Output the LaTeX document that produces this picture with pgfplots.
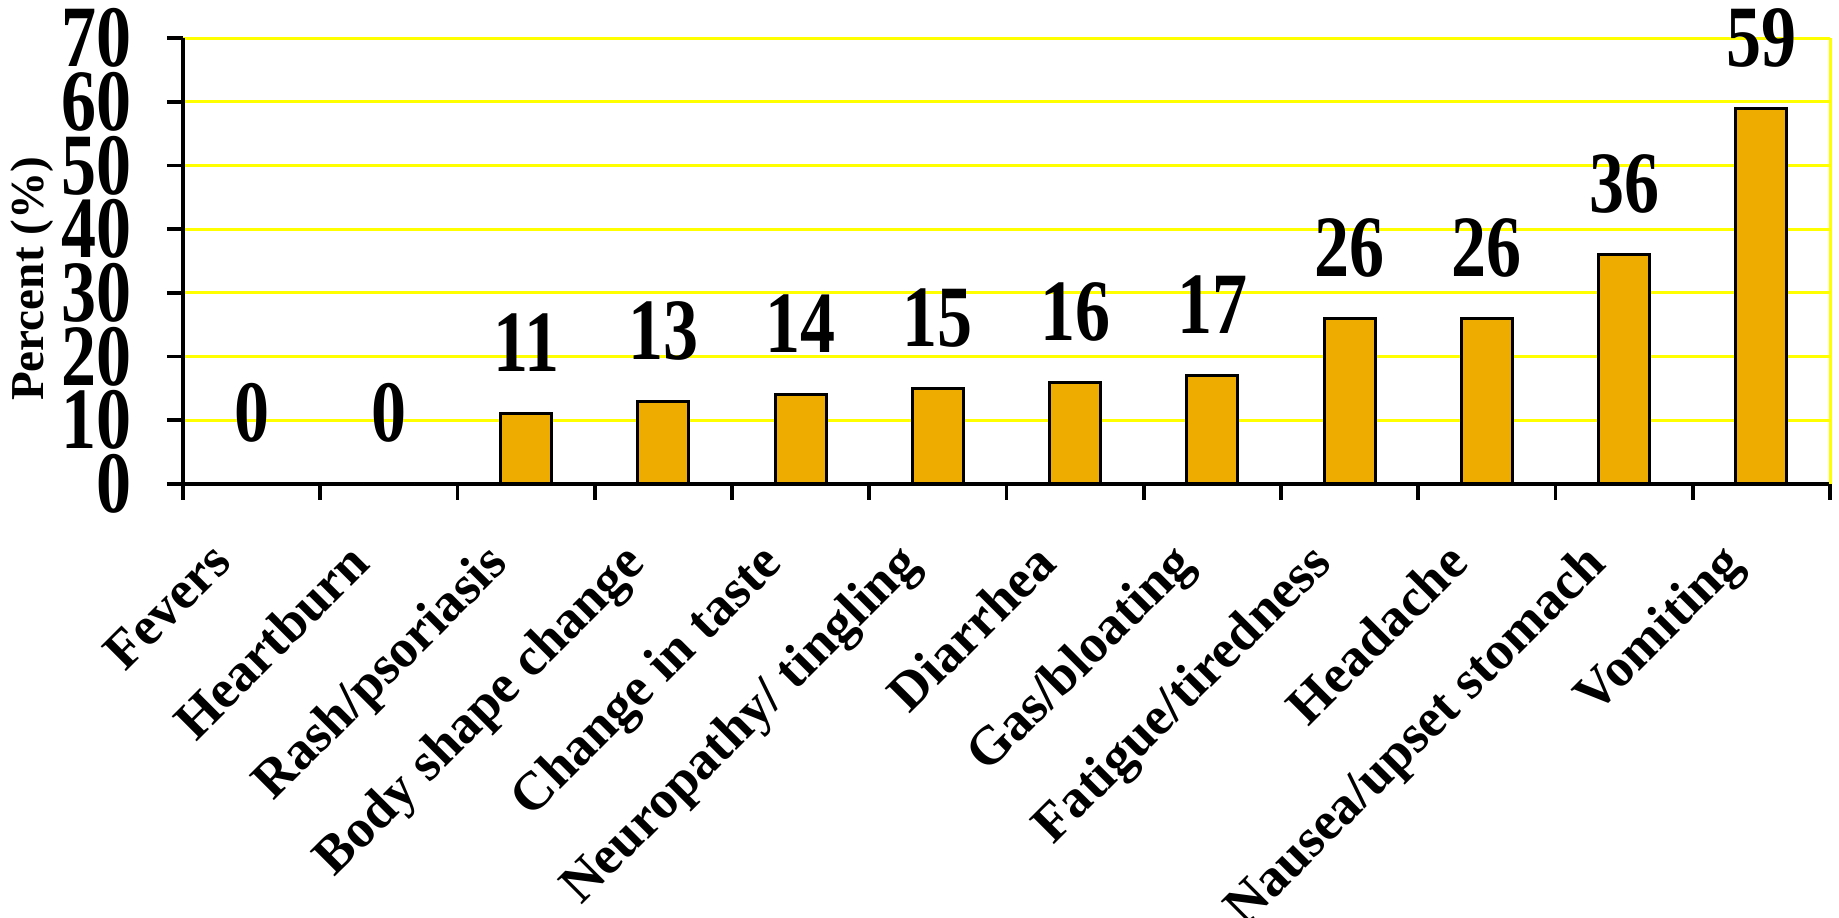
\documentclass[border=0pt]{standalone}
\usepackage{pgfplots}
\pgfplotsset{compat=1.18}
\usepackage{fontspec}
\setmainfont{Liberation Serif}
\definecolor{barcol}{RGB}{238,172,0}
\definecolor{gridyellow}{RGB}{255,255,0}
\begin{document}
\begin{tikzpicture}
\path[use as bounding box] (-45.75pt,-108.5pt) rectangle (414pt,121pt);
\begin{axis}[
  at={(0,0)}, anchor=south west,
  width=411.75pt, height=111.5pt, scale only axis,
  xmin=-0.5, xmax=11.5, ymin=0, ymax=70,
  axis lines*=left,
  axis line style={black, line width=0.9pt},
  /pgf/number format/assume math mode=true,
  ytick={0,10,...,70},
  yticklabel={\scalebox{1}[1.25]{\pgfmathprintnumber{\tick}}},
  xtick={-0.5,0.5,...,11.5},
  xticklabels={Fevers, Heartburn, Rash/psoriasis, Body shape change, Change in taste, Neuropathy/ tingling, Diarrhea, Gas/bloating, Fatigue/tiredness, Headache, Nausea/upset stomach, Vomiting, {}},
  tick align=outside,
  major tick length=4pt,
  tick style={black, line width=0.9pt},
  ymajorgrids, grid style={gridyellow, line width=0.75pt},
  yticklabel style={font=\fontsize{17.5}{17.5}\selectfont\bfseries, anchor=east, inner sep=0pt, xshift=-8.75pt},
  xticklabel style={font=\fontsize{13.5}{13.5}\selectfont\bfseries, xshift=6.35pt, yshift=-9.6pt, rotate=45, anchor=north east, inner sep=0pt},
  ylabel={Percent (\%)},
  every axis y label/.style={at={(axis description cs:0,0.46)}, xshift=-37.75pt, rotate=90, anchor=center, font=\fontsize{11.8}{12}\selectfont\bfseries},
  ybar, bar width=12.75pt,
  nodes near coords={\scalebox{1}[1.25]{\pgfmathprintnumber{\pgfplotspointmeta}}},
  every node near coord/.append style={font=\fontsize{17.5}{17.5}\selectfont\bfseries, anchor=base, inner sep=0pt, yshift=10.5pt},
  clip=false,
]
\addplot[fill=barcol, draw=black, line width=0.75pt] coordinates {
  (0,0) (1,0) (2,11) (3,13) (4,14) (5,15) (6,16) (7,17) (8,26) (9,26) (10,36) (11,59)
};
\end{axis}
\draw[gridyellow, line width=0.75pt] (411.75pt,0) -- (411.75pt,111.5pt);
\end{tikzpicture}
\end{document}
